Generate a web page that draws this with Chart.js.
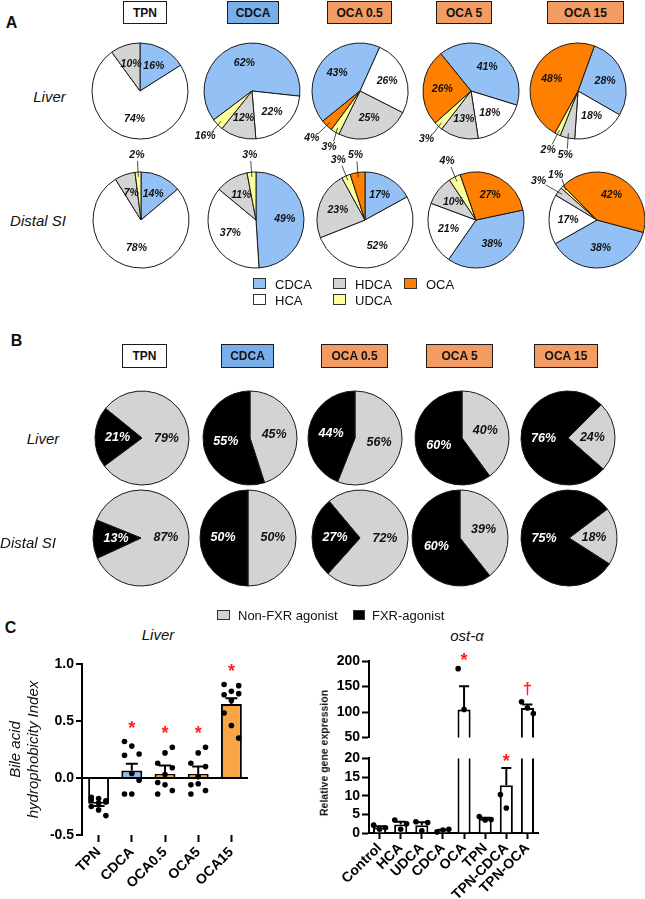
<!DOCTYPE html>
<html>
<head>
<meta charset="utf-8">
<script src="https://cdn.jsdelivr.net/npm/chart.js@4.4.1/dist/chart.umd.min.js"></script>
<style>
  body { margin: 0; background: #fff; }
  #fig { position: relative; width: 645px; height: 899px; overflow: hidden; background: #fff;
         font-family: Arial, "Liberation Sans", Helvetica, sans-serif; color: #111; }
  #fig canvas { position: absolute; }
  .t { position: absolute; white-space: nowrap; line-height: 1; transform: translate(-50%, -50%); }
  .l { position: absolute; white-space: nowrap; line-height: 1; transform: translateY(-50%); font-size: 13px; }
  .panel { font-weight: bold; font-size: 16px; }
  .row { font-style: italic; font-size: 15px; }
  .hdr { position: absolute; box-sizing: border-box; border: 1.5px solid #1a1a1a; font-weight: bold;
         font-size: 12px; display: flex; align-items: center; justify-content: center; }
  .key { position: absolute; box-sizing: border-box; border: 1.3px solid #333; }
</style>
</head>
<body>
<div id="fig"></div>
<script>
// ---- data ----
const groups = ['TPN', 'CDCA', 'OCA 0.5', 'OCA 5', 'OCA 15'];
const acids = ['CDCA', 'HCA', 'HDCA', 'UDCA', 'OCA'];

// panel A: % of each acid, same order as acids
const liverAcids = [[16, 74, 10, 0, 0], [62, 22, 12, 4, 0], [43, 26, 25, 3, 4], [41, 18, 13, 3, 26], [28, 18, 5, 2, 48]];
const liverAcidText = [['16%', '74%', '10%', '', ''], ['62%', '22%', '12%', '16%', ''], ['43%', '26%', '25%', '3%', '4%'],
                       ['41%', '18%', '13%', '3%', '26%'], ['28%', '18%', '5%', '2%', '48%']];
const distalAcids = [[14, 78, 7, 2, 0], [49, 37, 11, 3, 0], [17, 52, 23, 3, 5], [38, 21, 10, 4, 27], [38, 17, 3, 1, 42]];

// panel B: non-FXR vs FXR agonist %
const fxrClasses = ['Non-FXR agonist', 'FXR-agonist'];
const liverFxr = [[79, 21], [45, 55], [56, 44], [40, 60], [24, 76]];
const distalFxr = [[87, 13], [50, 50], [72, 27], [39, 60], [18, 75]];

// panel C left: hydrophobicity index
const hydroGroups = ['TPN', 'CDCA', 'OCA0.5', 'OCA5', 'OCA15'];
const hydroMean = [-0.225, 0.065, 0.035, 0.035, 0.65];
const hydroSem = [0.02, 0.06, 0.075, 0.065, 0.05];
const hydroPoints = [
  [-0.17, -0.18, -0.2, -0.19, -0.22, -0.21, -0.25, -0.28, -0.33],
  [0.32, 0.28, 0.21, 0.2, 0.04, -0.02, -0.14, -0.14],
  [0.13, 0.22, 0.27, -0.04, 0.03, 0.09, -0.14, -0.06, -0.11],
  [0.13, 0.22, 0.27, -0.14, 0.01, 0.1, -0.06, -0.05, -0.11],
  [0.82, 0.76, 0.81, 0.73, 0.68, 0.74, 0.57, 0.46, 0.35]
];
const hydroSig = ['', '*', '*', '*', '*'];

// panel C right: ost-alpha expression, y axis broken between 20 and 50
const ostGroups = ['Control', 'HCA', 'UDCA', 'CDCA', 'OCA', 'TPN', 'TPN-CDCA', 'TPN-OCA'];
const ostMean = [1.5, 2.3, 2.1, 0.7, 105, 3.8, 12.8, 108];
const ostSem = [0.3, 0.7, 0.8, 0.2, 45.6, 0.3, 4.6, 7];
const ostPoints = [[2.1, 1.0, 1.4], [3.5, 1.0, 2.5], [3.0, 0.6, 2.8], [0.3, 0.8, 1.0], [185, 105],
                   [4.4, 3.5, 3.6], [10.3, 6.7], [120, 108, 97]];
const ostSig = ['', '', '', '', '*', '', '*', '\u2020'];
const ostTicksLow = [0, 5, 10, 15, 20];
const ostTicksHigh = [50, 100, 150, 200];

// ---- styles / layout ----
const FONT = 'Arial, "Liberation Sans", sans-serif';
Chart.defaults.font.family = FONT;
Chart.defaults.color = '#000';

const acidColors = ['#93c1f6', '#ffffff', '#d4d4d4', '#ffff99', '#ff8000'];
const fxrColors = ['#d3d3d3', '#000000'];
const hdrColors = ['#ffffff', '#78aeea', '#f29b63', '#f29b63', '#f29b63'];
const hydroColors = ['#ffffff', '#8dbbf0', '#f8a548', '#f8a548', '#f8a548'];

const fig = document.getElementById('fig');

function addText(txt, x, y, cls, extra) {
  const d = document.createElement('div');
  d.className = cls;
  d.textContent = txt;
  d.style.left = x + 'px';
  d.style.top = y + 'px';
  if (extra) Object.assign(d.style, extra);
  fig.appendChild(d);
  return d;
}

function addCanvas(x, y, w, h) {
  const cv = document.createElement('canvas');
  cv.width = w;
  cv.height = h;
  cv.style.left = x + 'px';
  cv.style.top = y + 'px';
  fig.appendChild(cv);
  return cv;
}

// percent labels on pies, inside for big slices, outside with a leader for small ones
const pieText = {
  id: 'pieText',
  afterDatasetsDraw(chart, args, o) {
    const ctx = chart.ctx;
    const vals = chart.data.datasets[0].data;
    const total = vals.reduce((a, b) => a + b, 0);
    const outs = [];
    ctx.save();
    ctx.font = o.font;
    ctx.textAlign = 'center';
    ctx.textBaseline = 'middle';
    chart.getDatasetMeta(0).data.forEach((arc, i) => {
      const p = arc.getProps(['x', 'y', 'startAngle', 'endAngle', 'outerRadius'], true);
      const mid = (p.startAngle + p.endAngle) / 2;
      const txt = o.texts[i];
      if (!txt) return;
      if (vals[i] / total >= 0.065) {
        ctx.fillStyle = o.colors[i];
        ctx.fillText(txt, p.x + Math.cos(mid) * p.outerRadius * o.inner, p.y + Math.sin(mid) * p.outerRadius * o.inner);
      } else {
        outs.push({ txt, mid, x: p.x, y: p.y, r: p.outerRadius,
          lx: p.x + Math.cos(mid) * p.outerRadius * 1.36,
          ly: p.y + Math.sin(mid) * p.outerRadius * 1.36,
          w: ctx.measureText(txt).width });
      }
    });
    outs.sort((a, b) => a.lx - b.lx);
    for (let k = 1; k < outs.length; k++) {
      const a = outs[k - 1], b = outs[k];
      const gap = (a.w + b.w) / 2 + 2 - (b.lx - a.lx);
      if (gap > 0 && Math.abs(a.ly - b.ly) < 11) { a.lx -= gap / 2; b.lx += gap / 2; }
    }
    outs.forEach(p => {
      ctx.strokeStyle = '#222';
      ctx.lineWidth = 0.8;
      ctx.beginPath();
      ctx.moveTo(p.x + Math.cos(p.mid) * p.r * 0.9, p.y + Math.sin(p.mid) * p.r * 0.9);
      ctx.lineTo(p.lx - Math.cos(p.mid) * 9, p.ly - Math.sin(p.mid) * 6);
      ctx.stroke();
      ctx.fillStyle = '#111';
      ctx.fillText(p.txt, p.lx, p.ly);
    });
    ctx.restore();
  }
};

function makePie(cx, cy, r, values, colors, texts, textColors, rotation, font, inner, names) {
  const keep = values.map((v, i) => i).filter(i => values[i] > 0);
  const size = 150;
  const cv = addCanvas(cx - size / 2, cy - size / 2, size, size);
  new Chart(cv, {
    type: 'pie',
    data: {
      labels: keep.map(i => names[i]),
      datasets: [{
        data: keep.map(i => values[i]),
        backgroundColor: keep.map(i => colors[i]),
        borderColor: '#1a1a1a',
        borderWidth: 1,
        radius: r,
        rotation: rotation
      }]
    },
    options: {
      responsive: false, animation: false, events: [],
      radius: r, rotation: rotation,
      layout: { padding: 0 },
      plugins: {
        legend: { display: false },
        tooltip: { enabled: false },
        pieText: { texts: keep.map(i => texts[i]), colors: keep.map(i => textColors[i]), font, inner }
      }
    },
    plugins: [pieText]
  });
}

// ---- panel C charts first, so the pie canvases never sit above them ----
addText('C', 10.5, 628, 't panel');
addText('Liver', 158, 634, 't row');
addText('ost-\u03b1', 467, 635, 't row');

// error bars (away from zero) and significance symbols
const barMarks = {
  id: 'barMarks',
  afterDatasetsDraw(chart, args, o) {
    const { ctx, chartArea: a, scales: { x, y } } = chart;
    ctx.save();
    ctx.beginPath();
    ctx.rect(a.left + 2, a.top - 1, a.width + 20, a.height + 2);
    ctx.clip();
    ctx.strokeStyle = '#000';
    ctx.lineWidth = 2;
    o.mean.forEach((m, i) => {
      const dir = m < 0 ? -1 : 1;
      const px = x.getPixelForValue(i);
      const y0 = y.getPixelForValue(m);
      const y1 = y.getPixelForValue(m + dir * o.sem[i]);
      ctx.beginPath();
      ctx.moveTo(px, y0); ctx.lineTo(px, y1);
      ctx.moveTo(px - o.cap, y1); ctx.lineTo(px + o.cap, y1);
      ctx.stroke();
    });
    ctx.restore();

    ctx.save();
    ctx.fillStyle = '#ff1f1f';
    ctx.textAlign = 'center';
    ctx.textBaseline = 'alphabetic';
    o.sig.forEach((s, i) => {
      if (!s) return;
      const top = Math.max(o.mean[i] + o.sem[i], ...o.points[i]);
      if (top < y.min || top > y.max) return;
      const c = y.getPixelForValue(top) - o.lift;
      const size = s === '*' ? 18 : 17;
      ctx.font = 'bold ' + size + 'px ' + FONT;
      ctx.fillText(s, x.getPixelForValue(i), c + (s === '*' ? 0.57 : 0.33) * size);
    });
    ctx.restore();
  }
};

function dots(points, spread) {
  const out = [];
  points.forEach((vals, i) => vals.forEach((v, k) => out.push({ x: i + spread[k % spread.length], y: v })));
  return out;
}

// left: hydrophobicity index
new Chart(addCanvas(0, 640, 260, 259), {
  type: 'bar',
  data: {
    labels: hydroGroups,
    datasets: [
      { data: hydroMean, backgroundColor: hydroColors, borderColor: '#000', borderWidth: 2, grouped: false,
        barPercentage: 0.63, categoryPercentage: 1, order: 1 },
      { type: 'scatter', data: dots(hydroPoints, [-0.22, 0, 0.22]), xAxisID: 'xj',
        pointRadius: 2.8, pointBackgroundColor: '#000', pointBorderWidth: 0, order: 0 }
    ]
  },
  options: {
    responsive: false, animation: false, events: [],
    layout: { padding: { top: 24, right: 12, left: 0, bottom: 0 } },
    plugins: {
      legend: { display: false }, tooltip: { enabled: false },
      barMarks: { mean: hydroMean, sem: hydroSem, points: hydroPoints, sig: hydroSig, cap: 6, lift: 18 }
    },
    scales: {
      x: {
        offset: true,
        grid: { display: true, drawOnChartArea: false, offset: false, tickLength: 7, tickWidth: 2, tickColor: '#000' },
        border: { display: false },
        ticks: { color: '#000', font: { size: 14, weight: 'bold' }, minRotation: 45, maxRotation: 45, padding: 2, autoSkip: false },
        afterFit: s => { s.height = 64; }
      },
      xj: { type: 'linear', offset: false, min: -0.5, max: hydroGroups.length - 0.5, display: false },
      y: {
        min: -0.5, max: 1,
        ticks: { stepSize: 0.5, autoSkip: false, color: '#000', font: { size: 14, weight: 'bold' }, padding: 2, callback: v => v.toFixed(1) },
        grid: { color: c => (c.tick && c.tick.value === 0) ? '#000' : 'rgba(0,0,0,0)', lineWidth: 2,
                tickColor: '#000', tickLength: 6, tickWidth: 2 },
        border: { display: true, color: '#000', width: 2 },
        title: { display: true, text: ['Bile acid', 'hydrophobicity Index'], color: '#111',
                 font: { size: 15, style: 'italic', lineHeight: 1.2 }, padding: { top: 7, bottom: 0 } },
        afterFit: s => { s.width = 82; }
      }
    }
  },
  plugins: [barMarks]
});

// right: broken axis drawn as two stacked charts sharing the category axis
function ostChart(canvas, tickValues, lower, padding) {
  return new Chart(canvas, {
    type: 'bar',
    data: {
      labels: ostGroups,
      datasets: [
        { data: ostMean, backgroundColor: '#fff', borderColor: '#000', borderWidth: 2, grouped: false,
          barPercentage: 0.62, categoryPercentage: 1, clip: 0, order: 1 },
        { type: 'scatter', data: dots(ostPoints, [-0.28, 0, 0.28]), xAxisID: 'xj',
          pointRadius: 2.8, pointBackgroundColor: '#000', pointBorderWidth: 0, order: 0,
          clip: lower ? { top: 0, bottom: false, left: false, right: false } : { top: false, bottom: 0, left: false, right: false } }
      ]
    },
    options: {
      responsive: false, animation: false, events: [],
      layout: { padding: padding },
      plugins: {
        legend: { display: false }, tooltip: { enabled: false },
        barMarks: { mean: ostMean, sem: ostSem, points: ostPoints, sig: ostSig, cap: 5, lift: lower ? 11 : 13 }
      },
      scales: {
        x: {
          display: lower,
          offset: true,
          grid: { display: true, drawOnChartArea: false, offset: false, tickLength: 6, tickWidth: 2, tickColor: '#000' },
          border: { display: true, color: '#000', width: 2 },
          ticks: { color: '#000', font: { size: 14, weight: 'bold' }, minRotation: 45, maxRotation: 45, padding: 1, autoSkip: false },
          afterFit: s => { if (lower) s.height = 66; }
        },
        xj: { type: 'linear', offset: false, min: -0.5, max: ostGroups.length - 0.5, display: false },
        y: {
          min: tickValues[0], max: tickValues[tickValues.length - 1],
          afterBuildTicks: s => { s.ticks = tickValues.map(v => ({ value: v })); },
          ticks: { z: 1, autoSkip: false, color: '#000', font: { size: 14, weight: 'bold' }, padding: 2, callback: v => String(v) },
          grid: { drawOnChartArea: false, tickColor: '#000', tickLength: 7, tickWidth: 2 },
          border: { display: true, color: '#000', width: 2 },
          afterFit: s => { s.width = 69; }
        }
      }
    },
    plugins: [barMarks]
  });
}

// lower segment first, upper segment last so nothing is stacked above its labels
ostChart(addCanvas(300, 748, 250, 151), ostTicksLow, true, { top: 6, bottom: 0, left: 0, right: 12 });
ostChart(addCanvas(300, 640, 250, 108), ostTicksHigh, false, { top: 21, bottom: 7, left: 0, right: 12 });
addText('Relative gene expression', 324, 753, 't', { fontWeight: 'bold', fontSize: '10.5px', transform: 'translate(-50%, -50%) rotate(-90deg)' });

// ---- panel A ----
addText('A', 11.5, 22.5, 't panel');
[[123, 167], [227, 279], [327, 392], [436, 492], [547, 624]].forEach((b, i) => {
  addText(groups[i], b[0], 1, 'hdr', { width: (b[1] - b[0]) + 'px', height: '23px', background: hdrColors[i] });
});
addText('Liver', 49.5, 96, 't row');
addText('Distal SI', 38, 219.5, 't row');

const aLiverX = [139.5, 251.5, 360, 471, 578];
const aDistalX = [141, 255.5, 365, 476, 597];
const aLiverStart = [0, 233, 231, 321, 20];
const aDistalStart = [0, 0, 0, 78, 105];
const fontA = 'italic bold 10.5px ' + FONT;
const darkText = ['#111', '#111', '#111', '#111', '#111'];
groups.forEach((g, i) => {
  makePie(aLiverX[i], 91, 48, liverAcids[i], acidColors, liverAcidText[i], darkText, aLiverStart[i], fontA, 0.6, acids);
  makePie(aDistalX[i], 219.5, 48, distalAcids[i], acidColors, distalAcids[i].map(v => v + '%'), darkText, aDistalStart[i], fontA, 0.6, acids);
});

// legend A
[[0, 253, 278], [2, 333, 278], [4, 404, 278], [1, 253, 294], [3, 333, 294]].forEach(([k, x, y]) => {
  addText('', x, y, 'key', { width: '13px', height: '11px', background: acidColors[k] });
  addText(acids[k], x + 22, y + 6, 'l');
});

// ---- panel B ----
addText('B', 16.5, 340.5, 't panel');
const bLiverX = [142, 250, 355, 462, 568];
const bDistalX = [141, 248, 360, 460, 569];
const bLiverStart = [309, 0, 0, 0, 45];
const bDistalStart = [292, 0, 320, 0, 53];
const fontB = 'italic bold 12.5px ' + FONT;
groups.forEach((g, i) => {
  makePie(bLiverX[i], 437.5, 47, liverFxr[i], fxrColors, liverFxr[i].map(v => v + '%'), ['#111', '#fff'], bLiverStart[i], fontB, 0.52, fxrClasses);
  makePie(bDistalX[i], 538, 48, distalFxr[i], fxrColors, distalFxr[i].map(v => v + '%'), ['#111', '#fff'], bDistalStart[i], fontB, 0.52, fxrClasses);
});
[[122, 167], [221, 274], [321, 388], [426, 493], [534, 598]].forEach((b, i) => {
  addText(groups[i], b[0], 344, 'hdr', { width: (b[1] - b[0]) + 'px', height: '24px', background: hdrColors[i] });
});
addText('Liver', 43, 438, 't row');
addText('Distal SI', 28, 542, 't row');

addText('', 217, 610, 'key', { width: '13px', height: '10px', background: fxrColors[0] });
addText(fxrClasses[0], 238, 615, 'l');
addText('', 353, 610, 'key', { width: '12px', height: '10px', background: fxrColors[1] });
addText(fxrClasses[1], 372, 615, 'l');
</script>
</body>
</html>
